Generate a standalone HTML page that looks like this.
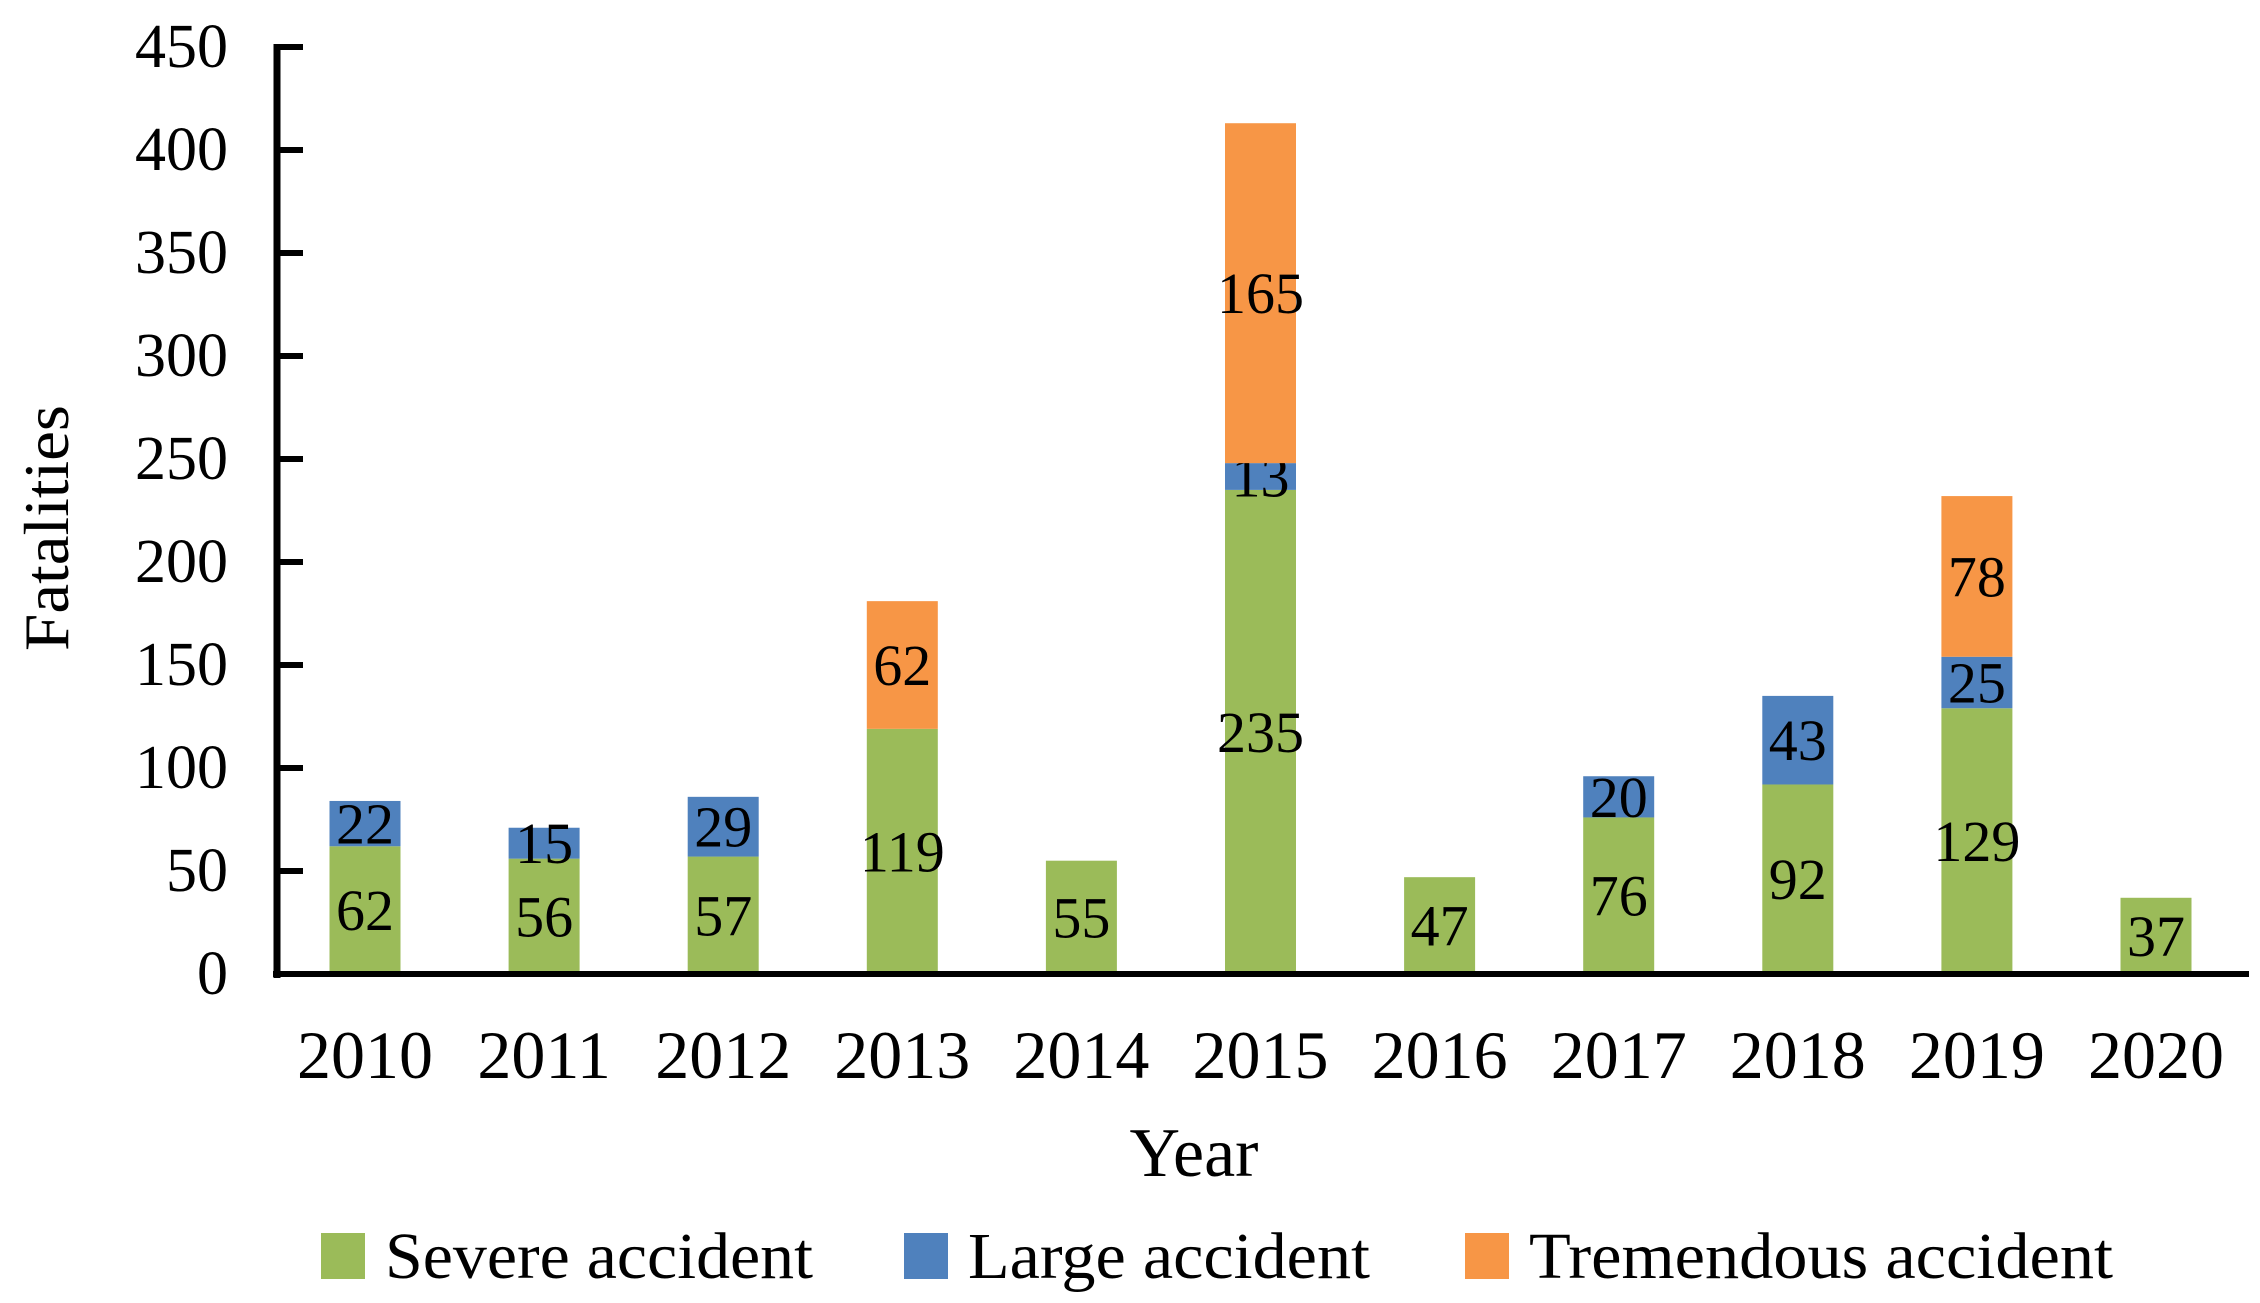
<!DOCTYPE html>
<html><head><meta charset="utf-8"><style>
html,body{margin:0;padding:0;background:#fff;}
svg{display:block;font-family:"Liberation Serif",serif;}
</style></head><body>
<svg id="chart" width="2260" height="1303" viewBox="0 0 2260 1303"></svg>
<script>
const years = ['2010','2011','2012','2013','2014','2015','2016','2017','2018','2019','2020'];
const severe = [62,56,57,119,55,235,47,76,92,129,37];
const large = [22,15,29,0,0,13,0,20,43,25,0];
const tremendous = [0,0,0,62,0,165,0,0,0,78,0];
const yTicks = [0,50,100,150,200,250,300,350,400,450];
const seriesNames = ['Severe accident','Large accident','Tremendous accident'];

const NS='http://www.w3.org/2000/svg';
const svg=document.getElementById('chart');
const colors=['#9BBB59','#4F81BD','#F79646'];
const x0=277, y0=974, yTop=47, yMax=450;
const step=179.1, firstC=365, bw=71;
function yS(v){return y0-(v/yMax)*(y0-yTop);}
function xC(i){return firstC+i*step;}
function mk(tag,attrs){const e=document.createElementNS(NS,tag);for(const k in attrs)e.setAttribute(k,attrs[k]);svg.appendChild(e);return e;}

const series=[severe,large,tremendous];
years.forEach((yr,i)=>{
  let base=0;
  series.forEach((arr,s)=>{
    const v=arr[i];
    if(!v)return;
    const r=mk('rect',{x:xC(i)-bw/2,y:yS(base+v),width:bw,height:yS(base)-yS(base+v),fill:colors[s]});
    
    
    const t=mk('text',{x:xC(i),y:yS(base+v/2)+20,'text-anchor':'middle','font-size':58,fill:'#000'});
    t.textContent=v;
    
    
    base+=v;
  });
  const xl=mk('text',{x:xC(i),y:1078,'text-anchor':'middle','font-size':68,fill:'#000'});
  xl.textContent=yr;
  
  
});

const ya=mk('line',{x1:x0,y1:yTop-3,x2:x0,y2:y0+4,stroke:'#000','stroke-width':7});


const xa=mk('line',{x1:x0-4,y1:y0,x2:2249,y2:y0,stroke:'#000','stroke-width':6});


yTicks.forEach(v=>{
  const tk=mk('line',{x1:x0,y1:yS(v),x2:x0+26,y2:yS(v),stroke:'#000','stroke-width':6});
  
  
  const tl=mk('text',{x:228,y:yS(v)+20,'text-anchor':'end','font-size':62,fill:'#000'});
  tl.textContent=v;
  
  
});

const xt=mk('text',{x:1194,y:1176,'text-anchor':'middle','font-size':70,fill:'#000'});
xt.textContent='Year';


const yt=mk('text',{x:0,y:0,'text-anchor':'middle','font-size':64,fill:'#000',transform:'translate(68,528) rotate(-90)',textLength:246,lengthAdjust:'spacingAndGlyphs'});
yt.textContent='Fatalities';



const legX=[321,904,1465], legTW=[428,402,584];
seriesNames.forEach((n,s)=>{
  const sw=mk('rect',{x:legX[s],y:1233,width:44,height:46,fill:colors[s]});
  
  
  const lt=mk('text',{x:legX[s]+64,y:1278,'font-size':66,fill:'#000',textLength:legTW[s],lengthAdjust:'spacingAndGlyphs'});
  lt.textContent=n;
  
  
});
</script>
</body></html>
